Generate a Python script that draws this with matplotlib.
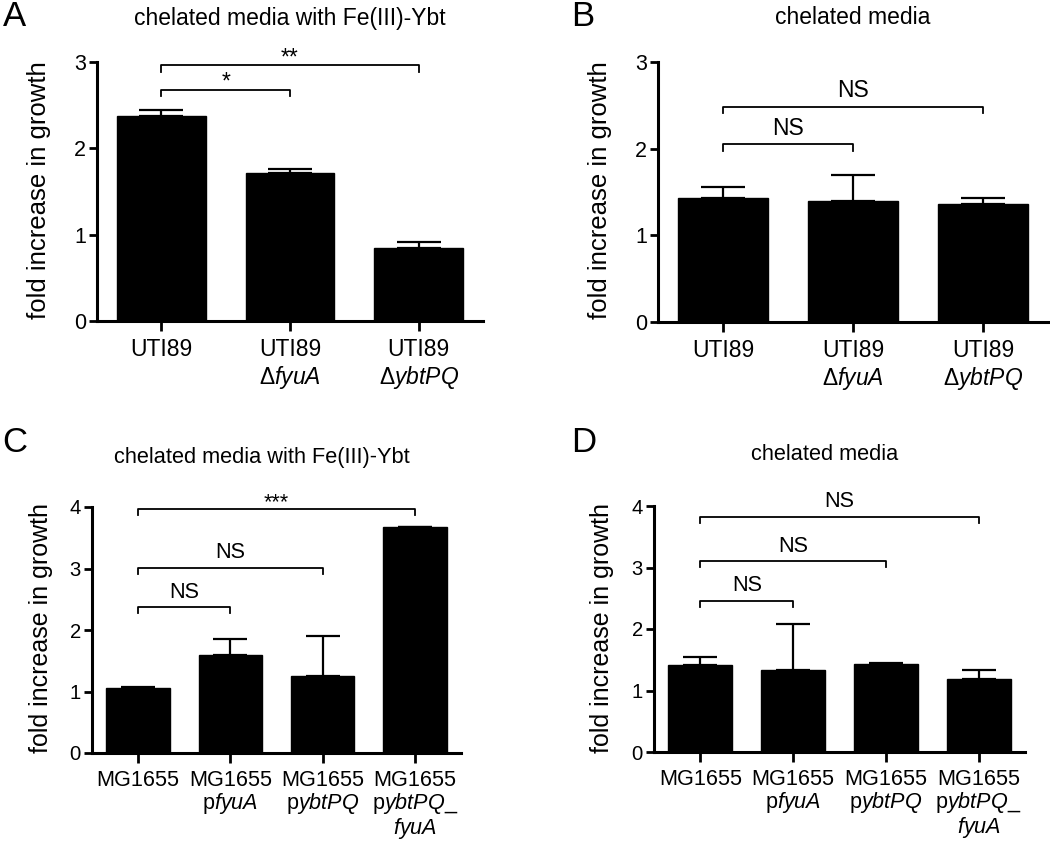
import matplotlib
matplotlib.use('Agg')
import matplotlib.pyplot as plt
import numpy as np

plt.rcParams['font.family'] = ['Liberation Sans', 'DejaVu Sans']
plt.rcParams['mathtext.fontset'] = 'custom'
plt.rcParams['mathtext.rm'] = 'Liberation Sans'
plt.rcParams['mathtext.it'] = 'Liberation Sans:italic'

W, H = 1050, 842

# ---- data ----
uti_labels = ['UTI89', 'UTI89\nΔ$\\mathit{fyuA}$', 'UTI89\nΔ$\\mathit{ybtPQ}$']
mg_labels = ['MG1655', 'MG1655\np$\\mathit{fyuA}$', 'MG1655\np$\\mathit{ybtPQ}$',
             'MG1655\np$\\mathit{ybtPQ\\_}$\n$\\mathit{fyuA}$']

a_mean = [2.37, 1.72, 0.84]
a_err = [0.07, 0.04, 0.08]
b_mean = [1.43, 1.40, 1.36]
b_err = [0.13, 0.30, 0.07]
c_mean = [1.06, 1.59, 1.25, 3.68]
c_err = [0.02, 0.26, 0.66, 0.0]
d_mean = [1.42, 1.34, 1.43, 1.18]
d_err = [0.12, 0.74, 0.02, 0.16]

# significance brackets: (bar from, bar to, height, text)
a_sig = [(0, 1, 2.68, '*'), (0, 2, 2.96, '**')]
b_sig = [(0, 1, 2.05, 'NS'), (0, 2, 2.48, 'NS')]
c_sig = [(0, 1, 2.37, 'NS'), (0, 2, 3.01, 'NS'), (0, 3, 3.96, '***')]
d_sig = [(0, 1, 2.46, 'NS'), (0, 2, 3.10, 'NS'), (0, 3, 3.82, 'NS')]

title_fe = 'chelated media with Fe(III)-Ybt'
title_ch = 'chelated media'


fig = plt.figure(figsize=(W / 100, H / 100), dpi=100)


def px_axes(x0, y0, x1, y1):
    return fig.add_axes([x0 / W, 1 - y1 / H, (x1 - x0) / W, (y1 - y0) / H])


def panel(rect, mean, err, labels, sig, ymax, fs, capsize, lsp):
    ax = px_axes(*rect)
    x = np.arange(len(mean))
    ax.bar(x, mean, width=0.69, color='black', edgecolor='black',
           yerr=[np.zeros(len(err)), err], capsize=capsize,
           error_kw=dict(elinewidth=1.6, capthick=1.6, ecolor='black'))
    ax.set_xlim(-0.5, len(mean) - 0.5)
    ax.set_ylim(0, ymax)
    ax.set_yticks(range(ymax + 1))
    ax.set_xticks(x)
    ax.set_xticklabels(labels, fontsize=fs, linespacing=lsp)
    ax.tick_params(axis='y', labelsize=fs - 1, length=6, width=2, pad=2)
    ax.tick_params(axis='x', length=7, width=2, pad=5)
    for s in ['top', 'right']:
        ax.spines[s].set_visible(False)
    for s in ['left', 'bottom']:
        ax.spines[s].set_linewidth(2.2)
    leg = 0.024 * ymax
    for i, j, h, t in sig:
        ax.plot([i, i, j, j], [h - leg, h, h, h - leg], color='black', lw=1.3,
                clip_on=False)
        off = 1 if '*' in t else 7
        ax.annotate(t, xy=((i + j) / 2, h), xytext=(0, off), textcoords='offset points',
                    ha='center', va='baseline', fontsize=fs)
    return ax


panel((97, 62, 483, 321), a_mean, a_err, uti_labels, a_sig, 3, 16.5, 16, 1.15)
panel((658, 62, 1048, 322), b_mean, b_err, uti_labels, b_sig, 3, 16.5, 16, 1.15)
panel((92, 507, 461, 753), c_mean, c_err, mg_labels, c_sig, 4, 15.6, 12, 1.0)
panel((654, 506, 1025, 752), d_mean, d_err, mg_labels, d_sig, 4, 15.6, 12, 1.0)


def ftext(x, y, s, **kw):
    fig.text(x / W, 1 - y / H, s, ha='center', va='center', **kw)


ftext(290, 18, title_fe, fontsize=16.5)
ftext(853, 18, title_ch, fontsize=16.5)
ftext(262, 457, title_fe, fontsize=15.7)
ftext(825, 455, title_ch, fontsize=15.7)

ylab = 'fold increase in growth'
ftext(39, 190, ylab, fontsize=18.5, rotation=90)
ftext(600, 190, ylab, fontsize=18.5, rotation=90)
ftext(41, 628, ylab, fontsize=18, rotation=90)
ftext(602, 628, ylab, fontsize=18, rotation=90)

for (x, y, s) in [(14, 16, 'A'), (583, 16, 'B'), (15, 443, 'C'), (584, 443, 'D')]:
    ftext(x, y, s, fontsize=25)

fig.savefig('out.png', dpi=100)
